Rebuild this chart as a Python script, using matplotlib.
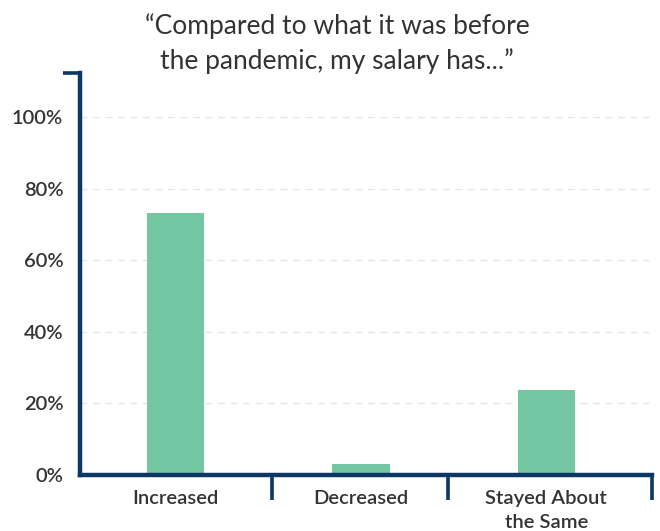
import matplotlib
matplotlib.use("Agg")
import matplotlib.pyplot as plt
from matplotlib.ticker import FuncFormatter

categories = ["Increased", "Decreased", "Stayed About\nthe Same"]
values = [73.1, 3.0, 23.7]
yticks = [0, 20, 40, 60, 80, 100]
title = "\u201cCompared to what it was before\nthe pandemic, my salary has...\u201d"

plt.rcParams['font.family'] = ['Lato', 'DejaVu Sans']

navy = '#0d3766'
bar_color = '#73c8a3'
text_color = '#333333'

fig = plt.figure(figsize=(6.6, 5.31), dpi=100)
ax = fig.add_axes([0.1212, 0.1055, 0.8667, 0.757])

x = list(range(len(categories)))
ax.bar(x, values, width=0.31, color=bar_color, zorder=3)

ax.set_xlim(-0.515, 2.57)
ax.set_ylim(0, 112.3)

ax.set_yticks(yticks)
ax.yaxis.set_major_formatter(FuncFormatter(lambda v, p: f"{int(v)}%"))
ax.set_xticks(x)
ax.set_xticklabels(categories, linespacing=1.45, fontweight='semibold')

ax.set_xticks([0.52, 1.47, 2.57], minor=True)
ax.set_yticks([112.3], minor=True)

ax.tick_params(axis='both', which='major', length=0, labelsize=14.5,
               labelcolor=text_color)
ax.tick_params(axis='y', which='major', pad=12)
ax.tick_params(axis='x', which='major', pad=11)
ax.tick_params(axis='x', which='minor', length=18, width=2.6, color=navy,
               direction='out')
ax.tick_params(axis='y', which='minor', length=12, width=2.6, color=navy,
               direction='out')
for lbl in ax.get_yticklabels():
    lbl.set_fontweight('semibold')

for s in ['top', 'right']:
    ax.spines[s].set_visible(False)
for s in ['left', 'bottom']:
    ax.spines[s].set_color(navy)
    ax.spines[s].set_linewidth(3.2)
    ax.spines[s].set_zorder(4)

ax.yaxis.grid(True, which='major', color='#e6e6e6', linestyle=(0, (5, 4)),
              linewidth=1, zorder=0)
ax.set_axisbelow(True)

fig.text(0.511, 0.976, title, ha='center', va='top', fontsize=19,
         color=text_color, linespacing=1.45)

fig.savefig("out.png", dpi=100, facecolor='white')
